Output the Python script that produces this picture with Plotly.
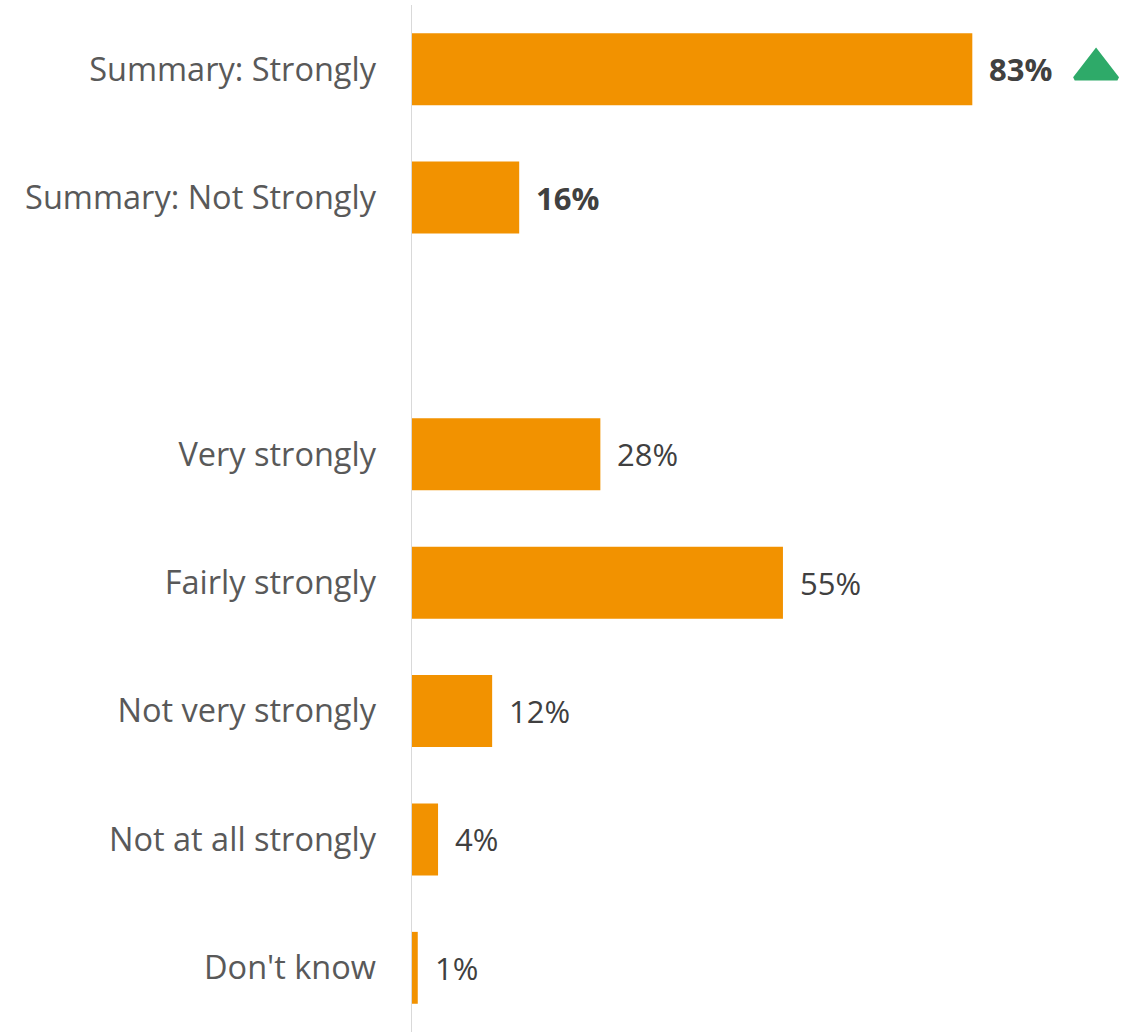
import plotly.graph_objects as go

# Survey response shares (percent)
categories = ["Summary: Strongly", "Summary: Not Strongly", " ",
              "Very strongly", "Fairly strongly", "Not very strongly",
              "Not at all strongly", "Don't know"]
values = [83, 16, None, 28, 55, 12, 4, 1]
bold_rows = ["Summary: Strongly", "Summary: Not Strongly"]
up_marker_row = "Summary: Strongly"

bar_color = "#F29200"
label_color = "#595959"
value_color = "#404040"
font_family = "'Open Sans', Lato, sans-serif"

fig = go.Figure()
fig.add_trace(go.Bar(
    x=values, y=categories, orientation="h",
    marker=dict(color=bar_color, line=dict(width=0)),
    hoverinfo="skip",
))

# Value labels to the right of each bar
for cat, val in zip(categories, values):
    if val is None:
        continue
    txt = f"<b>{val}%</b>" if cat in bold_rows else f"{val}%"
    fig.add_annotation(x=val, y=cat, text=txt, showarrow=False,
                       xanchor="left", yanchor="middle", xshift=15,
                       font=dict(size=31, color=value_color, family=font_family))

# Green "up" indicator beside the headline figure
fig.add_trace(go.Scatter(
    x=[101.3], y=[up_marker_row], mode="markers",
    marker=dict(symbol="triangle-up", size=37, color="#2EAA69",
                line=dict(color="#2EAA69", width=4)),
    hoverinfo="skip", showlegend=False,
))

fig.update_layout(
    width=1138, height=1032,
    margin=dict(l=411, r=0, t=5, b=0),
    paper_bgcolor="white", plot_bgcolor="white",
    showlegend=False, bargap=0.44,
    font=dict(family=font_family, color=label_color),
    xaxis=dict(range=[0, 107.5], visible=False, fixedrange=True),
    yaxis=dict(categoryorder="array", categoryarray=categories,
               range=[len(categories) - 0.5, -0.5], autorange=False,
               showgrid=False, zeroline=False,
               showline=False, ticks="", ticklabelstandoff=34,
               tickfont=dict(size=32.5, color=label_color, family=font_family)),
    shapes=[dict(type="line", xref="x", yref="paper", x0=0, x1=0, y0=0, y1=1,
                 line=dict(color="#D9D9D9", width=2))],
)

fig.write_html("out.html")
